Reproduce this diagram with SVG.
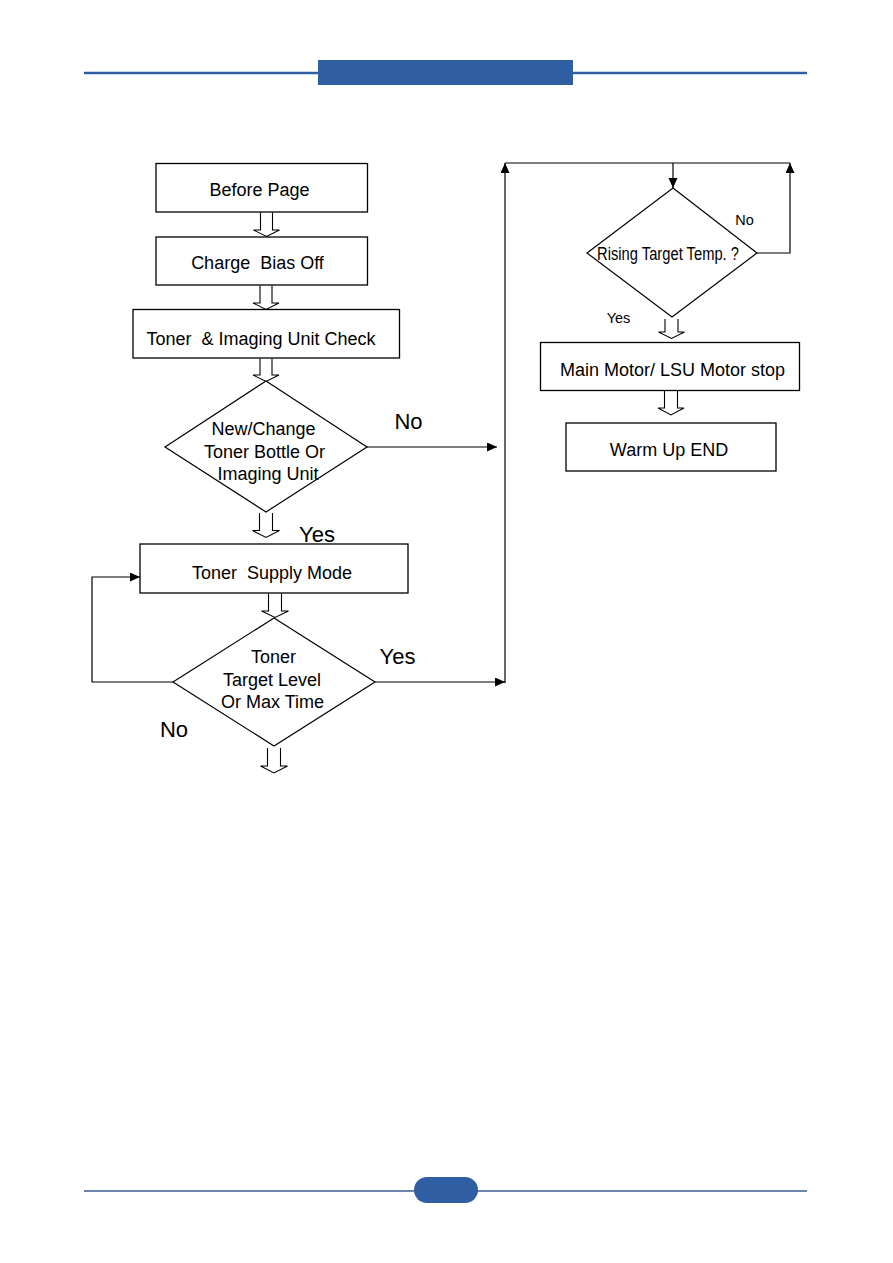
<svg xmlns="http://www.w3.org/2000/svg" width="893" height="1263" viewBox="0 0 893 1263">
<style>
  .box{fill:#fff;stroke:#000;stroke-width:1.3}
  .dia{fill:#fff;stroke:#000;stroke-width:1.2}
  .hollow{fill:#fff;stroke:#000;stroke-width:1.1}
  .conn{fill:none;stroke:#000;stroke-width:1.2}
  .t{font-family:"Liberation Sans",Arial,sans-serif;font-size:18px;fill:#000;text-anchor:middle}
  .big{font-size:22px}
  .small{font-size:14.5px}
</style>
<defs>
  <marker id="ah" markerUnits="userSpaceOnUse" markerWidth="11" markerHeight="10" refX="10" refY="4.5" orient="auto">
    <path d="M0,0 L10,4.5 L0,9 z" fill="#000"/>
  </marker>
</defs>
<rect width="893" height="1263" fill="#fff"/>
<g id="header">
  <line x1="84" y1="73" x2="807" y2="73" stroke="#2f5fa2" stroke-width="2.4"/>
  <rect x="318" y="60" width="255" height="25" fill="#2f5fa2"/>
</g>
<g id="footer">
  <line x1="84" y1="1191" x2="807" y2="1191" stroke="#3b5d8f" stroke-width="1.3"/>
  <rect x="414" y="1177" width="64" height="26" rx="13" fill="#2f5fa2"/>
</g>
<g id="connectors">
  <path class="conn" d="M367,447 H497" marker-end="url(#ah)"/>
  <path class="conn" d="M375,682 H505" marker-end="url(#ah)"/>
  <path class="conn" d="M505,683 V163" marker-end="url(#ah)"/>
  <path class="conn" d="M505,163 H790"/>
  <path class="conn" d="M673,163 V188" marker-end="url(#ah)"/>
  <path class="conn" d="M757,253 H790 V163" marker-end="url(#ah)"/>
  <path class="conn" d="M173,682 H92 V577 H140" marker-end="url(#ah)"/>
  <path class="hollow" d="M260.5,212.5 V230 H253.5 L266.5,236.5 L279.5,230 H272.5 V212.5"/>
  <path class="hollow" d="M260,285.5 V303 H253 L266,309.5 L279,303 H272 V285.5"/>
  <path class="hollow" d="M260,358.5 V375 H253 L266,381.5 L279,375 H272 V358.5"/>
  <path class="hollow" d="M259.5,513 V530.5 H252.5 L266,537.5 L279.5,530.5 H272.5 V513"/>
  <path class="hollow" d="M268.5,593.5 V611 H261.5 L275,617.5 L288.5,611 H281.5 V593.5"/>
  <path class="hollow" d="M267.5,748 V766 H260.5 L274,773 L287.5,766 H280.5 V748"/>
  <path class="hollow" d="M665,319 V332 H658.5 L671.5,338.5 L684.5,332 H678 V319"/>
  <path class="hollow" d="M664.5,391 V408 H658 L671,415 L684,408 H677.5 V391"/>
</g>
<g id="before-page">
  <rect class="box" x="156" y="163.5" width="211.5" height="48.5"/>
  <text class="t" x="259.5" y="196">Before Page</text>
</g>
<g id="charge-bias-off">
  <rect class="box" x="156" y="237" width="211.5" height="48"/>
  <text class="t" x="257.5" y="268.5" xml:space="preserve">Charge  Bias Off</text>
</g>
<g id="toner-imaging-check">
  <rect class="box" x="133" y="309.5" width="266.5" height="48.5"/>
  <text class="t" x="261" y="345" xml:space="preserve">Toner  &amp; Imaging Unit Check</text>
</g>
<g id="new-change-decision">
  <polygon class="dia" points="266,381 367,447 266,512 165,447"/>
  <text class="t" x="263.5" y="435">New/Change</text>
  <text class="t" x="264.5" y="457.5">Toner Bottle Or</text>
  <text class="t" x="268" y="480">Imaging Unit</text>
  <text class="t big" x="408.5" y="429">No</text>
  <text class="t big" x="317" y="541.5">Yes</text>
</g>
<g id="toner-supply-mode">
  <rect class="box" x="140" y="544" width="268" height="49"/>
  <text class="t" x="272" y="578.5" xml:space="preserve">Toner  Supply Mode</text>
</g>
<g id="toner-target-decision">
  <polygon class="dia" points="274,618 375,682 274,746 173,682"/>
  <text class="t" x="273.5" y="663">Toner</text>
  <text class="t" x="272" y="685.5">Target Level</text>
  <text class="t" x="272.5" y="708">Or Max Time</text>
  <text class="t big" x="397.5" y="664">Yes</text>
  <text class="t big" x="174" y="737">No</text>
</g>
<g id="rising-temp-decision">
  <polygon class="dia" points="673,188 757,253 672,317 587,253"/>
  <text class="t" x="668" y="259.5" style="font-size:17.5px" textLength="142" lengthAdjust="spacingAndGlyphs">Rising Target Temp. ?</text>
  <text class="t small" x="744.5" y="225">No</text>
  <text class="t small" x="618.5" y="323">Yes</text>
</g>
<g id="main-motor-stop">
  <rect class="box" x="540.5" y="342.5" width="259" height="48"/>
  <text class="t" x="672.5" y="376">Main Motor/ LSU Motor stop</text>
</g>
<g id="warm-up-end">
  <rect class="box" x="566" y="423" width="210" height="48"/>
  <text class="t" x="669" y="456">Warm Up END</text>
</g>
</svg>
